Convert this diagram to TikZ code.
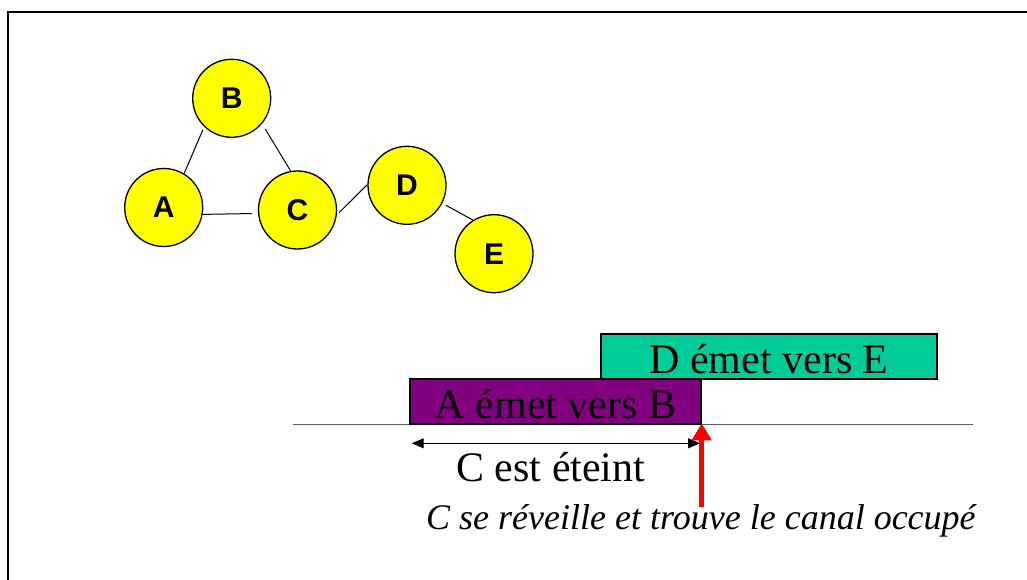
\documentclass[tikz,border=0pt]{standalone}
\usepackage{fontspec}
\setmainfont{Liberation Serif}
\setsansfont{Liberation Sans}
\usetikzlibrary{arrows.meta}
\definecolor{nodeyellow}{HTML}{FFFF00}
\definecolor{abpurple}{HTML}{800080}
\definecolor{degreen}{HTML}{00CC99}
\definecolor{axisgray}{HTML}{606060}
\definecolor{wakered}{HTML}{FF0000}
\tikzset{
  station/.style={circle, draw=black, line width=1.3pt, fill=nodeyellow,
    minimum size=78pt, inner sep=0pt,
    font=\sffamily\bfseries\fontsize{30}{36}\selectfont},
  link/.style={line width=1pt, black},
  txbox/.style={draw=black, line width=2pt, inner sep=0pt,
    minimum height=45pt, text height=33pt, text depth=0pt,
    font=\fontsize{42}{50}\selectfont},
  bigtext/.style={font=\fontsize{42}{50}\selectfont, inner sep=0pt, anchor=base},
  smalltext/.style={font=\itshape\fontsize{36}{42}\selectfont, inner sep=0pt, anchor=base west}
}
\begin{document}
\begin{tikzpicture}[x=1pt,y=-1pt]
\useasboundingbox (0,0) rectangle (1027,580);
\clip (0,0) rectangle (1027,580);
% outer frame
\draw[line width=2pt, black] (8.3,11.7) rectangle (1060,620);

% network of stations
\node[station] (A) at (163.7,207.5) {A};
\node[station] (B) at (231.7,98.3) {B};
\node[station] (C) at (297.5,210) {C};
\node[station] (D) at (407,185.3) {D};
\node[station] (E) at (494,253.7) {E};
\draw[link, shorten >=3pt] (A.59) -- (B.226);
\draw[link, shorten >=6pt] (A.350) -- (C.185);
\draw[link, shorten <=6pt] (B.320) -- (C.100);
\draw[link, shorten <=3pt] (C.353) -- (D.179);
\draw[link, shorten <=4pt] (D.333) -- (E.122);

% time axis
\coordinate (t0) at (292.7,424.3);
\coordinate (t1) at (972.7,424.3);
\draw[line width=1.5pt, axisgray] (t0) -- (t1);

% transmissions
\node[txbox, fill=degreen, minimum width=336.6pt] (de) at (769,356.7) {D émet vers E};
\node[txbox, fill=abpurple, minimum width=290.6pt] (ab) at (555.7,401.8) {A émet vers B};

% C asleep interval
\coordinate (sl) at (411.7,443.3);
\coordinate (sr) at (700,443.3);
\draw[line width=1pt, {Triangle[length=12pt,width=10pt]}-{Triangle[length=12pt,width=10pt]}] (sl) -- (sr);
\node[bigtext] (off) at (550.8,481.7) {C est éteint};

% C wakes up
\coordinate (wb) at (701.7,506.7);
\coordinate (wt) at (701.7,423.3);
\draw[wakered, line width=4.7pt, -{Triangle[length=17pt,width=19pt]}] (wb) -- (wt);
\node[smalltext] (wake) at (426,529) {C se réveille et trouve le canal occupé};
\end{tikzpicture}
\end{document}
